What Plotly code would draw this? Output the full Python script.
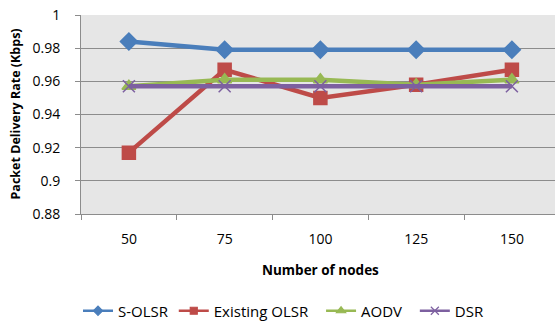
import plotly.graph_objects as go

nodes = ["50", "75", "100", "125", "150"]
s_olsr = [0.984, 0.979, 0.979, 0.979, 0.979]
existing_olsr = [0.917, 0.967, 0.950, 0.958, 0.967]
aodv = [0.957, 0.961, 0.961, 0.958, 0.961]
dsr = [0.957, 0.957, 0.957, 0.957, 0.957]
series_names = ["S-OLSR", "Existing OLSR", "AODV", "DSR"]
y_ticks = [0.88, 0.90, 0.92, 0.94, 0.96, 0.98, 1.0]
y_ticklabels = ["0.88", "0.9", "0.92", "0.94", "0.96", "0.98", "1"]

FONT = "Open Sans, Lato, sans-serif"
NB = "\u00a0"

styles = [
    ("#4A7EBB", "diamond", 13, 7, 0),
    ("#BE4B48", "square", 13, 7, 2),
    ("#98B954", "triangle-up", 12, 8, 2),
    ("#7D60A0", "x-thin", 12, 8, 0),
]
values = [s_olsr, existing_olsr, aodv, dsr]

fig = go.Figure()
for name, vals, (col, sym, sz, lsz, pad) in zip(series_names, values, styles):
    fig.add_trace(go.Scatter(
        x=nodes, y=vals, name=name, mode="lines+markers",
        line=dict(color=col, width=4.5),
        marker=dict(symbol=sym, size=sz, color=col,
                    line=dict(color=col, width=1.5)),
        showlegend=False,
    ))
# legend entries (no visible marks) with smaller symbols, as in the reference
for name, (col, sym, sz, lsz, pad) in zip(series_names, styles):
    fig.add_trace(go.Scatter(
        x=[None], y=[None], name=name + NB * pad, mode="lines+markers",
        line=dict(color=col, width=2.5),
        marker=dict(symbol=sym, size=lsz, color=col,
                    line=dict(color=col, width=1.2)),
        showlegend=True,
    ))

fig.update_layout(
    width=555, height=322,
    margin=dict(l=81, r=0, t=15, b=108),
    paper_bgcolor="white",
    plot_bgcolor="#E6E6E6",
    font=dict(family=FONT, size=14, color="#000000"),
    showlegend=True,
    legend=dict(orientation="h", x=78 / 555, xref="container", xanchor="left",
                y=11 / 322, yref="container", yanchor="middle",
                font=dict(size=15), itemwidth=30, tracegroupgap=0,
                bgcolor="rgba(0,0,0,0)"),
    xaxis=dict(
        type="category", range=[-0.5, 4.45],
        showgrid=False, showline=True, linecolor="#8C8C8C", linewidth=1,
        ticks="outside", tickson="boundaries", ticklen=5, tickcolor="#8C8C8C",
        tickfont=dict(size=14), ticklabelstandoff=12,
    ),
    yaxis=dict(
        range=[0.88, 1.0], tickvals=y_ticks, ticktext=y_ticklabels,
        showgrid=True, gridcolor="#8C8C8C", gridwidth=1,
        showline=True, linecolor="#8C8C8C", linewidth=1,
        ticks="outside", ticklen=5, tickcolor="#8C8C8C",
        tickfont=dict(size=14), ticklabelstandoff=12, zeroline=False,
    ),
    annotations=[
        dict(text="<b>Packet Delivery Rate (Kbps)</b>", xref="paper", yref="paper",
             x=0, y=0.5, xshift=-66, textangle=-90, showarrow=False,
             font=dict(size=12.5), xanchor="center", yanchor="middle"),
        dict(text="<b>Number of nodes</b>", xref="x", yref="paper",
             x=2, y=0, yshift=-56, showarrow=False,
             font=dict(size=13.5), xanchor="center", yanchor="middle"),
    ],
)

fig.write_html("out.html")
